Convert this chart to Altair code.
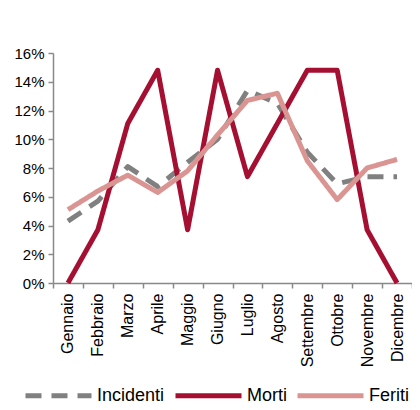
import altair as alt
import pandas as pd

mesi = ["Gennaio", "Febbraio", "Marzo", "Aprile", "Maggio", "Giugno",
        "Luglio", "Agosto", "Settembre", "Ottobre", "Novembre", "Dicembre"]
incidenti = [0.043, 0.057, 0.081, 0.067, 0.084, 0.100, 0.134, 0.125, 0.091, 0.069, 0.074, 0.074]
morti = [0.0, 0.037, 0.111, 0.148, 0.037, 0.148, 0.074, 0.111, 0.148, 0.148, 0.037, 0.0]
feriti = [0.051, 0.064, 0.075, 0.063, 0.078, 0.103, 0.127, 0.132, 0.085, 0.058, 0.080, 0.086]
serie = ["Incidenti", "Morti", "Feriti"]
colori = ["#808080", "#A50F32", "#DA9593"]
tratti = [[16, 10], [1, 0], [1, 0]]

rows = []
for s, vals in zip(serie, [incidenti, morti, feriti]):
    for m, v in zip(mesi, vals):
        rows.append({"mese": m, "valore": v, "serie": s, "ord": serie.index(s)})
df = pd.DataFrame(rows)

axis_color = "#898989"
font = "Liberation Sans, Arial, sans-serif"

chart = alt.Chart(df).mark_line(strokeWidth=5, strokeJoin="round").encode(
    x=alt.X("mese:N", sort=mesi, title=None,
            scale=alt.Scale(paddingInner=0, paddingOuter=0),
            axis=alt.Axis(labelAngle=-90, tickBand="extent", domainColor=axis_color,
                          tickColor=axis_color, tickSize=5, labelPadding=5,
                          labelFont=font, labelFontSize=16, labelColor="#000000",
                          domainWidth=1.5, tickWidth=1.5, grid=False)),
    y=alt.Y("valore:Q", title=None,
            scale=alt.Scale(domain=[0, 0.16], nice=False),
            axis=alt.Axis(format=".0%", values=[0, 0.02, 0.04, 0.06, 0.08, 0.10, 0.12, 0.14, 0.16],
                          domainColor=axis_color, tickColor=axis_color, tickSize=5,
                          labelFont=font, labelFontSize=15, labelColor="#000000",
                          labelPadding=4, domainWidth=1.5, tickWidth=1.5, grid=False)),
    color=alt.Color("serie:N", sort=serie, title=None,
                    scale=alt.Scale(domain=serie, range=colori),
                    legend=alt.Legend(orient="none", direction="horizontal",
                                      legendX=-30, legendY=307, gridAlign="each",
                                      symbolType="stroke", symbolSize=4356,
                                      symbolStrokeWidth=5, labelFont=font,
                                      labelFontSize=18, labelColor="#000000",
                                      labelOffset=3, columnPadding=0)),
    strokeDash=alt.StrokeDash("serie:N", sort=serie, title=None,
                              scale=alt.Scale(domain=serie, range=tratti)),
    order=alt.Order("ord:Q"),
).properties(
    width=359, height=230,
    autosize=alt.AutoSizeParams(type="none"),
    padding={"left": 45, "top": 45, "right": 0, "bottom": 119},
).configure_view(stroke=None)

chart.save("out.html", embed_options={"renderer": "svg", "actions": False})
